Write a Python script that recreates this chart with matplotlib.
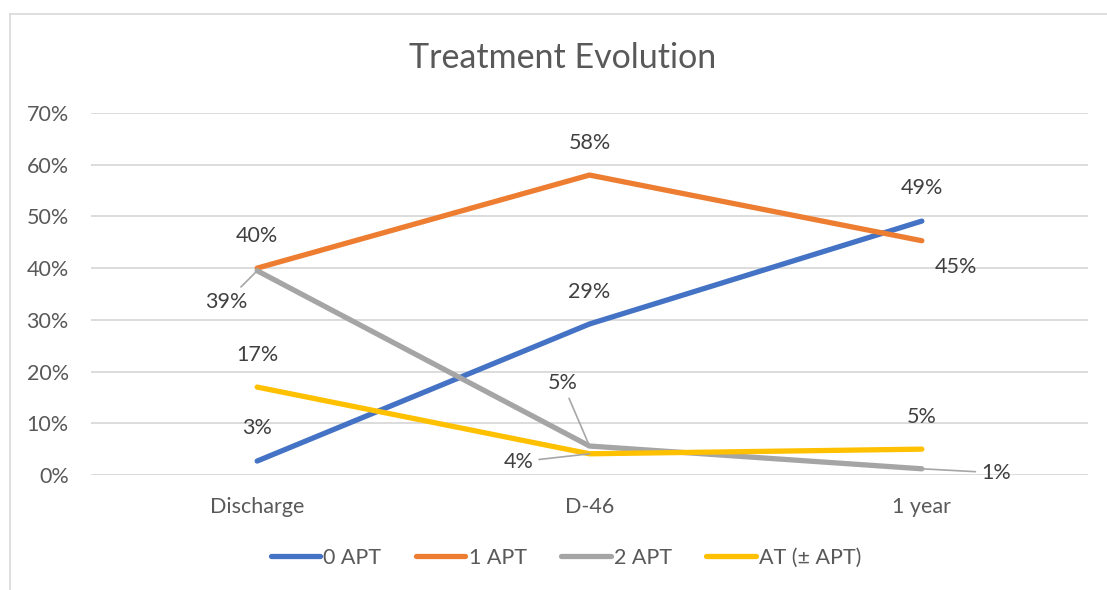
import matplotlib
matplotlib.use("Agg")
import matplotlib.pyplot as plt
from matplotlib.lines import Line2D

categories = ["Discharge", "D-46", "1 year"]
series_names = ["0 APT", "1 APT", "2 APT", "AT (± APT)"]
apt0 = [2.7, 29.2, 49.1]
apt1 = [40.0, 58.0, 45.3]
apt2 = [39.5, 5.6, 1.2]
at_apt = [17.0, 4.1, 5.0]
label_apt0 = ["3%", "29%", "49%"]
label_apt1 = ["40%", "58%", "45%"]
label_apt2 = ["39%", "5%", "1%"]
label_at = ["17%", "4%", "5%"]
yticks = [0, 10, 20, 30, 40, 50, 60, 70]
ytick_labels = ["0%", "10%", "20%", "30%", "40%", "50%", "60%", "70%"]

colors = ["#4472C4", "#ED7D31", "#A5A5A5", "#FFC000"]
values = [apt0, apt1, apt2, at_apt]
labels = [label_apt0, label_apt1, label_apt2, label_at]
# label offsets in pixels (dx, dy screen-down), and leader flags
offsets = [
    [(0, -33), (0, -32), (0, -33)],
    [(0, -32), (0, -32), (34, 26)],
    [(-31, 31), (-27, -63), (74, 4)],
    [(0, -32), (-71, 8), (0, -32)],
]
leaders = [
    [False, False, False],
    [False, False, False],
    [True, True, True],
    [False, True, False],
]

plt.rcParams['font.family'] = ['Lato', 'DejaVu Sans']
FS = 15.5

fig = plt.figure(figsize=(11.07, 5.90), dpi=100)
W, H = 1107, 590
ax = fig.add_axes([91 / W, 1 - 475 / H, (1088 - 91) / W, (475 - 113) / H])

x = list(range(len(categories)))
for s in range(len(series_names)):
    ax.plot(x, values[s], color=colors[s], lw=3.8, solid_capstyle='round',
            label=series_names[s], zorder=3)

for s in range(len(series_names)):
    for i in range(len(categories)):
        dx, dy = offsets[s][i]
        kw = {}
        if leaders[s][i]:
            kw['arrowprops'] = dict(arrowstyle='-', color='#A6A6A6', lw=1.2,
                                    shrinkA=2, shrinkB=0)
        ax.annotate(labels[s][i], xy=(x[i], values[s][i]), xytext=(dx, -dy),
                    textcoords='offset pixels', ha='center', va='center',
                    fontsize=FS, color='#404040', zorder=4, **kw)

ax.set_xlim(-0.5, 2.5)
ax.set_ylim(0, 70)
ax.set_yticks(yticks)
ax.set_yticklabels(ytick_labels)
ax.set_xticks(x)
ax.set_xticklabels(categories)
ax.grid(axis='y', color='#D9D9D9', lw=1.3, zorder=0)
ax.set_axisbelow(True)
for sp in ax.spines.values():
    sp.set_visible(False)
ax.tick_params(axis='both', length=0, labelsize=FS, labelcolor='#595959')
ax.tick_params(axis='y', pad=16)
ax.tick_params(axis='x', pad=16)

fig.text(563 / W, 1 - 58 / H, "Treatment Evolution", ha='center', va='center',
         fontsize=24.5, color='#595959')

handles = [Line2D([0], [0], color=c, lw=3.8, solid_capstyle='round') for c in colors]
fig.legend(handles, series_names, loc='center', bbox_to_anchor=(566 / W, 1 - 558 / H),
           ncol=4, frameon=False, fontsize=FS, labelcolor='#595959',
           handlelength=2.3, handletextpad=0.15, columnspacing=1.6)

# chart border (top and left visible)
fig.add_artist(Line2D([9.5 / W, 9.5 / W], [0, 1 - 13.5 / H], color='#D9D9D9', lw=1.2,
                      transform=fig.transFigure))
fig.add_artist(Line2D([9.5 / W, 1], [1 - 13.5 / H, 1 - 13.5 / H], color='#D9D9D9', lw=1.2,
                      transform=fig.transFigure))

fig.savefig("out.png", dpi=100)
